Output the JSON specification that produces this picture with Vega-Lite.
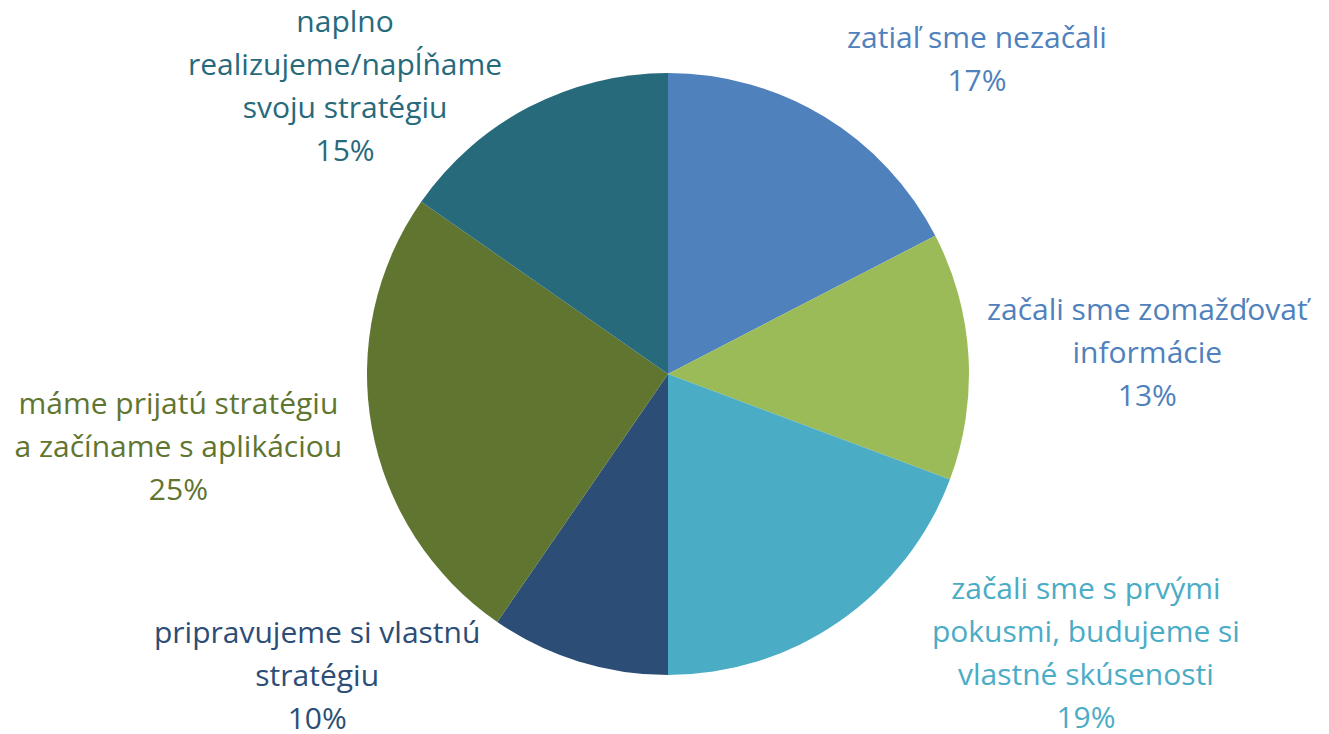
{
  "$schema": "https://vega.github.io/schema/vega-lite/v6.json",
  "width": 1322,
  "height": 720,
  "padding": {"left": 7, "top": 14, "right": 0, "bottom": 0},
  "autosize": {"type": "none"},
  "background": "white",
  "config": {"view": {"stroke": null}},
  "data": {
    "values": [
      {"poradie": 1, "kategoria": "zatiaľ sme nezačali", "hodnota": 17.4, "popis": "zatiaľ sme nezačali\n17%"},
      {"poradie": 2, "kategoria": "začali sme zomažďovať informácie", "hodnota": 13.3, "popis": "začali sme zomažďovať\ninformácie\n13%"},
      {"poradie": 3, "kategoria": "začali sme s prvými pokusmi, budujeme si vlastné skúsenosti", "hodnota": 19.3, "popis": "začali sme s prvými\npokusmi, budujeme si\nvlastné skúsenosti\n19%"},
      {"poradie": 4, "kategoria": "pripravujeme si vlastnú stratégiu", "hodnota": 9.6, "popis": "pripravujeme si vlastnú\nstratégiu\n10%"},
      {"poradie": 5, "kategoria": "máme prijatú stratégiu a začíname s aplikáciou", "hodnota": 25.1, "popis": "máme prijatú stratégiu\na začíname s aplikáciou\n25%"},
      {"poradie": 6, "kategoria": "naplno realizujeme/napĺňame svoju stratégiu", "hodnota": 15.3, "popis": "naplno\nrealizujeme/napĺňame\nsvoju stratégiu\n15%"}
    ]
  },
  "layer": [
    {
      "mark": {"type": "arc", "outerRadius": 301},
      "encoding": {
        "theta": {"field": "hodnota", "type": "quantitative", "stack": true},
        "order": {"field": "poradie", "type": "quantitative"},
        "color": {
          "field": "poradie", "type": "nominal", "legend": null,
          "scale": {"domain": [1, 2, 3, 4, 5, 6], "range": ["#4F81BD", "#9BBB59", "#4BACC6", "#2C4D75", "#5F7530", "#276A7C"]}
        }
      }
    },
    {
      "mark": {
        "type": "text", "radius": 400, "font": "Open Sans", "fontSize": 30, "lineHeight": 43,
        "lineBreak": "\n", "align": "center", "baseline": "middle",
        "dx": {"expr": "[101, 80, 190, -232, -96, -138][datum.poradie - 1]"},
        "dy": {"expr": "[7, -39, -113, -122, -40, 4][datum.poradie - 1]"}
      },
      "encoding": {
        "theta": {"field": "hodnota", "type": "quantitative", "stack": true},
        "order": {"field": "poradie", "type": "quantitative"},
        "text": {"field": "popis", "type": "nominal"},
        "color": {
          "field": "kategoria", "type": "nominal", "legend": null,
          "scale": {
            "domain": ["zatiaľ sme nezačali", "začali sme zomažďovať informácie", "začali sme s prvými pokusmi, budujeme si vlastné skúsenosti", "pripravujeme si vlastnú stratégiu", "máme prijatú stratégiu a začíname s aplikáciou", "naplno realizujeme/napĺňame svoju stratégiu"],
            "range": ["#4F81BD", "#4F81BD", "#4BACC6", "#2C4D75", "#5F7530", "#276A7C"]
          }
        }
      }
    }
  ],
  "resolve": {"scale": {"color": "independent"}}
}
